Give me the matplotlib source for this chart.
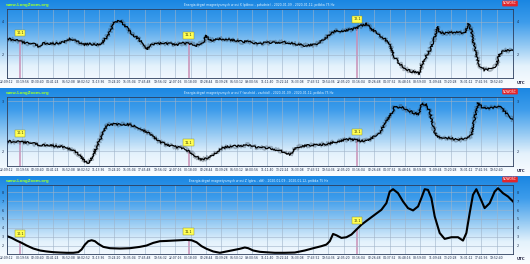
import matplotlib
matplotlib.use('Agg')
import matplotlib.pyplot as plt
from matplotlib.colors import LinearSegmentedColormap
import numpy as np

plt.rcParams.update({'font.family': 'DejaVu Sans'})

# time axis: hours since 2020-01-09 22:09
tick_labels = ['22:09:12', '00:19:56', '02:30:40', '04:41:24', '06:52:08', '09:02:52',
               '11:13:36', '13:24:20', '15:35:04', '17:45:48', '19:56:32', '22:07:16',
               '00:18:00', '02:28:44', '04:39:28', '06:50:12', '09:00:56', '11:11:40',
               '13:22:24', '15:33:08', '17:43:52', '19:54:36', '22:05:20', '00:16:04',
               '02:26:48', '04:37:32', '06:48:16', '08:59:00', '11:09:44', '13:20:28',
               '15:31:12', '17:41:56', '19:52:40']
tick_step = 2.179
span_hours = 72.05

marker_hours = [1.85, 25.85, 49.85]
marker_labels = ['10.1', '11.1', '12.1']

titles = [
    'Energia drgań magnetycznych w osi X (północ - południe) - 2020-01-09 - 2020-01-12, próbka 75 Hz',
    'Energia drgań magnetycznych w osi Y (wschód - zachód) - 2020-01-09 - 2020-01-12, próbka 75 Hz',
    'Energia drgań magnetycznych w osi Z (góra - dół) - 2020-01-09 - 2020-01-12, próbka 75 Hz',
]

x_hours = [0.05, 0.90, 1.85, 2.80, 3.75, 4.46, 5.17, 6.12, 7.07, 8.02,
           8.96, 9.91, 10.86, 11.81, 12.76, 13.47, 13.95, 14.66, 15.13, 15.61,
           16.08, 16.55, 17.03, 17.74, 18.45, 19.16, 19.88, 20.35, 21.30, 22.25,
           23.19, 24.14, 25.09, 26.04, 26.99, 27.94, 28.41, 28.89, 29.60, 30.31,
           31.73, 32.68, 33.63, 34.34, 35.05, 36.00, 36.71,
           38.13, 39.56, 40.98, 42.40, 43.82, 44.54, 45.25, 45.96, 46.67, 48.09,
           49.52, 50.47, 51.18, 51.89, 52.84, 53.79, 54.50, 55.21, 55.92, 56.63,
           57.58, 58.53, 58.77, 59.00, 59.48, 60.19, 60.90, 61.28, 61.61, 62.32,
           63.75, 65.17, 65.74, 66.12, 66.59, 67.30, 68.01, 68.96, 69.67, 70.15,
           70.86, 71.81, 72.05]
x_values = [2.95, 2.89, 2.81, 2.69, 2.65, 2.50, 2.69, 2.65, 2.69, 2.73,
            2.95, 2.81, 2.61, 2.65, 2.59, 2.65, 2.95, 3.35, 3.86, 4.02,
            4.06, 3.86, 3.66, 3.25, 3.05, 2.75, 2.30, 2.55, 2.65, 2.69,
            2.65, 2.59, 2.69, 2.65, 2.55, 2.75, 3.15, 2.85, 2.89, 2.95,
            2.89, 2.85, 2.75, 2.85, 2.69, 2.65, 2.72,
            2.71, 2.75, 2.65, 2.55, 2.59, 2.75, 2.95, 3.25, 3.41, 3.45,
            3.56, 3.76, 3.86, 3.56, 3.25, 2.95, 2.55, 1.84, 1.43, 1.13,
            0.97, 0.93, 0.83, 1.33, 1.74, 2.24, 3.05, 3.70, 3.35, 3.29,
            3.35, 3.31, 3.86, 3.45, 2.44, 1.23, 1.07, 1.13, 1.33, 2.04,
            2.24, 2.24, 2.34]

y_hours = [0.05, 0.90, 1.85, 3.27, 4.70, 6.12, 7.54, 8.49, 9.44, 10.39,
           11.10, 11.43, 11.81, 12.28, 12.76, 13.47, 13.95, 14.42, 15.13, 16.08,
           17.03, 17.98, 18.92, 19.87, 20.82, 21.77, 22.72, 23.67, 24.62, 25.33,
           26.04, 26.75, 27.46, 28.17, 28.88, 29.60, 30.31, 31.26, 32.21, 33.15,
           34.10, 35.05, 36.00, 36.71,
           37.66, 38.61, 39.56, 40.27, 40.74, 41.45, 42.88, 44.30, 45.72, 47.14,
           48.57, 49.99, 50.94, 51.89, 52.84, 53.79, 54.73, 55.21, 56.16, 57.10,
           58.05, 58.62, 59.00, 59.71, 60.19, 60.90, 61.37, 62.32, 63.27, 64.22,
           65.17, 65.64, 66.12, 66.59, 67.07, 67.78, 68.49, 69.44, 70.15, 70.86,
           71.57, 72.05]
y_values = [2.20, 2.19, 2.19, 2.17, 2.13, 2.12, 2.10, 2.07, 2.02, 1.92,
            1.80, 1.77, 1.80, 1.92, 2.09, 2.29, 2.46, 2.53, 2.54, 2.53,
            2.54, 2.51, 2.44, 2.39, 2.29, 2.19, 2.13, 2.10, 2.07, 2.05,
            1.99, 1.92, 1.84, 1.85, 1.89, 1.95, 2.04, 2.09, 2.10, 2.11,
            2.13, 2.10, 2.07, 2.07,
            2.05, 2.02, 1.99, 1.93, 2.02, 2.09, 2.12, 2.13, 2.15, 2.20,
            2.24, 2.22, 2.20, 2.26, 2.34, 2.53, 2.76, 2.88, 2.88, 2.81,
            2.76, 2.74, 2.94, 2.93, 2.79, 2.39, 2.29, 2.27, 2.26, 2.22,
            2.26, 2.27, 2.32, 2.66, 2.96, 2.86, 2.86, 2.88, 2.90, 2.79,
            2.69, 2.63]

z_hours = [0.05, 0.66, 1.38, 2.09, 2.80, 3.75, 4.70, 5.64, 6.59, 7.54,
           8.49, 9.44, 10.15, 10.62, 11.10, 11.57, 12.05, 12.52, 13.00, 13.71,
           14.66, 16.08, 17.50, 18.92, 19.87, 20.82, 21.77, 22.72, 23.67, 24.62,
           25.56, 26.28, 26.99, 27.70, 28.41, 29.36, 30.31, 31.26, 32.21, 33.15,
           33.86, 34.34, 35.05, 36.00, 36.71,
           38.13, 39.56, 40.98, 42.40, 43.82, 44.77, 45.48, 45.96, 46.43, 46.91,
           47.62, 48.33, 49.04, 49.75, 50.47, 51.41, 52.36, 53.31, 54.02, 54.50,
           54.97, 55.68, 56.39, 57.10, 57.82, 58.53, 59.00, 59.48, 59.95, 60.43,
           60.90, 61.61, 62.32, 63.27, 64.22, 64.93, 65.41, 65.88, 66.35, 66.83,
           67.30, 68.01, 68.73, 69.44, 69.91, 70.62, 71.34, 72.05]
z_values = [3.05, 2.86, 2.56, 2.30, 2.00, 1.66, 1.44, 1.33, 1.25, 1.21,
            1.18, 1.18, 1.25, 1.55, 2.11, 2.49, 2.60, 2.49, 2.19, 1.85,
            1.70, 1.66, 1.70, 1.85, 2.00, 2.30, 2.49, 2.52, 2.56, 2.60,
            2.64, 2.60, 2.37, 1.93, 1.63, 1.33, 1.18, 1.33, 1.48, 1.63,
            1.78, 1.70, 1.44, 1.29, 1.25,
            1.18, 1.18, 1.21, 1.44, 1.74, 1.93, 2.11, 2.49, 3.31, 3.16,
            2.86, 2.94, 3.24, 3.80, 4.36, 4.92, 5.48, 6.04, 6.79, 8.10,
            8.37, 7.92, 6.98, 6.23, 5.97, 6.42, 7.36, 8.37, 8.29, 7.36,
            5.30, 3.42, 2.75, 2.94, 2.94, 2.56, 3.42, 5.67, 7.73, 8.37,
            7.54, 6.23, 6.79, 8.10, 8.48, 7.92, 7.54, 6.98]

panels = [
    (x_hours, x_values, (0.6, 4.8), [2, 4], True),
    (y_hours, y_values, (1.72, 3.09), [2, 3], True),
    (z_hours, z_values, (1.1, 8.9), [2, 3, 4, 5, 6, 7, 8], False),
]

W, H = 530, 264
bg_cmap = LinearSegmentedColormap.from_list('bg', ['#1a86e2', '#3d9ceb', '#8ec6f2', '#e4f2fc', '#fbfdff'])

fig = plt.figure(figsize=(W / 100, H / 100), dpi=100)
tick_pos = np.arange(len(tick_labels)) * tick_step

for i, (hrs, vals, ylim, yticks, noisy) in enumerate(panels):
    top = 88 * i
    bg = fig.add_axes([0, 1 - (top + 88) / H, 1, 88 / H], zorder=0)
    bg.imshow(np.linspace(0, 1, 200).reshape(-1, 1), aspect='auto', cmap=bg_cmap, extent=[0, 1, 0, 1])
    bg.axis('off')

    ax = fig.add_axes([7 / W, 1 - (top + 77.5) / H, 506 / W, 69 / H], zorder=1)
    ax.patch.set_alpha(0)
    ax.set_xlim(0, span_hours)
    ax.set_ylim(*ylim)
    ax.set_xticks(tick_pos)
    ax.set_xticklabels(tick_labels)
    ax.set_yticks(yticks)
    ax.tick_params(axis='x', length=0, labelsize=2.2, pad=1.5, colors='#1a2a4a')
    ax.tick_params(axis='y', length=0, labelsize=2.4, pad=2.5, colors='#1a2a4a',
                   labelleft=True, labelright=True)
    ax.grid(True, color='#9fb3c8', lw=0.4)
    for sp in ax.spines.values():
        sp.set_color('#2b3d5c')
        sp.set_linewidth(0.6)

    if noisy:
        band, = ax.plot(hrs, vals, color='#34404c', lw=1.3, alpha=0.35)
        band.set_sketch_params(scale=2.2, length=1.0, randomness=4)
        ln, = ax.plot(hrs, vals, color='black', lw=0.9)
        ln.set_sketch_params(scale=1.0, length=1.0, randomness=3)
    else:
        ax.plot(hrs, vals, color='black', lw=1.5)

    for mh, lab in zip(marker_hours, marker_labels):
        yv = np.interp(mh, hrs, vals)
        ax.plot([mh, mh], [ylim[0], yv], color='#c98fb5', lw=1.1, zorder=1)
        ax.annotate(lab, (mh, yv), xytext=(0, 6), textcoords='offset points',
                    ha='center', va='center', fontsize=2.4, color='#333300',
                    bbox=dict(boxstyle='square,pad=0.4', fc='#ffff55', ec='#8a8a20', lw=0.3))

    fig.text(6 / W, 1 - (top + 5) / H, 'www.LongZoom.org', color='#9cff2e', fontsize=2.8,
             fontweight='bold', va='center')
    fig.text(259 / W, 1 - (top + 5) / H, titles[i], ha='center', va='center',
             fontsize=2.2, color='#e6f6ff')
    fig.text(510 / W, 1 - (top + 3.5) / H, 'NOWOŚĆ', fontsize=2.2, color='white',
             ha='center', va='center',
             bbox=dict(boxstyle='round,pad=0.3', fc='#e3262b', ec='none'))
    fig.text(521 / W, 1 - (top + 83) / H, 'UTC', fontsize=2.8, fontweight='bold',
             color='#202040', ha='center', va='center')

fig.savefig('out.png', dpi=100)
